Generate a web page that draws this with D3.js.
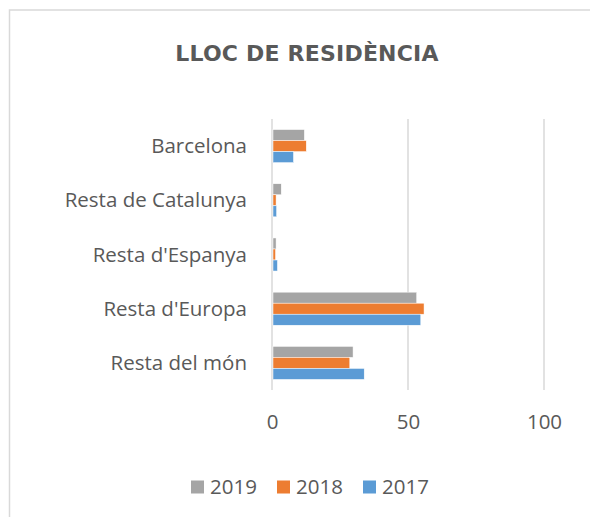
<!DOCTYPE html>
<meta charset="utf-8">
<style>
  html, body {
      margin: 0;
      padding: 0;
      background: #fff;
  }
  text {
      fill: #595959;
  }
  .title {
      font-family: "DejaVu Sans", sans-serif;
      font-weight: bold;
      font-size: 22px;
      letter-spacing: 0.2px;
  }
  .lbl {
      font-family: "Open Sans", sans-serif;
      font-size: 20.5px;
  }
  .grid line {
      stroke: #d9d9d9;
      stroke-width: 1.5px;
  }
</style>
<body>
</body>
<script src="https://cdn.jsdelivr.net/npm/d3@7"></script>
<script>

  var width = 590;
  var height = 517;

  // data
  var categories = ["Barcelona", "Resta de Catalunya", "Resta d'Espanya", "Resta d'Europa", "Resta del món"];
  var years = ["2019", "2018", "2017"];
  var values2019 = [11.9, 3.4, 1.5, 53.2, 29.8];
  var values2018 = [12.6, 1.5, 1.3, 55.9, 28.6];
  var values2017 = [7.9, 1.7, 2.0, 54.7, 33.9];
  var xTicks = [0, 50, 100];

  var colors = {"2019": "#a5a5a5", "2018": "#ed7d31", "2017": "#5b9bd5"};
  var series = {"2019": values2019, "2018": values2018, "2017": values2017};

  var svg = d3.select("body").append("svg")
      .attr("width", width)
      .attr("height", height);

  /* chart border */
  svg.append("rect")
      .attr("x", 9.5)
      .attr("y", 10)
      .attr("width", 620)
      .attr("height", 560)
      .attr("fill", "none")
      .attr("stroke", "#d9d9d9")
      .attr("stroke-width", 1.5);

  svg.append("text")
      .attr("class", "title")
      .attr("x", 307)
      .attr("y", 53)
      .attr("dy", ".35em")
      .attr("text-anchor", "middle")
      .text("LLOC DE RESIDÈNCIA");

  var x = d3.scaleLinear()
      .domain([0, 100])
      .range([272, 544]);

  var y = d3.scaleBand()
      .domain(categories)
      .range([119, 390])
      .paddingInner(0.39)
      .paddingOuter(0.195);

  var y1 = d3.scaleBand()
      .domain(years)
      .range([0, y.bandwidth()]);

  /* gridlines */
  svg.append("g")
      .attr("class", "grid")
      .selectAll("line")
      .data(xTicks)
      .enter().append("line")
      .attr("x1", d => x(d))
      .attr("x2", d => x(d))
      .attr("y1", 119)
      .attr("y2", 390);

  /* bars */
  var groups = svg.selectAll(".cat")
      .data(categories)
      .enter().append("g")
      .attr("class", "cat")
      .attr("transform", d => "translate(0," + y(d) + ")");

  groups.selectAll("rect")
      .data((d, i) => years.map(yr => ({year: yr, value: series[yr][i]})))
      .enter().append("rect")
      .attr("x", x(0) + 1)
      .attr("y", d => y1(d.year))
      .attr("width", d => x(d.value) - x(0) - 1)
      .attr("height", y1.bandwidth())
      .attr("fill", d => colors[d.year])
      .attr("stroke", "#fff")
      .attr("stroke-width", 0.5);

  /* category labels */
  svg.append("g")
      .selectAll("text")
      .data(categories)
      .enter().append("text")
      .attr("class", "lbl")
      .attr("x", 247)
      .attr("y", d => y(d) + y.bandwidth() / 2)
      .attr("dy", ".35em")
      .attr("text-anchor", "end")
      .text(d => d);

  /* x axis labels */
  var xAxis = d3.axisBottom(x)
      .tickValues(xTicks)
      .tickSize(0)
      .tickPadding(0);

  var ax = svg.append("g")
      .attr("transform", "translate(0,415)")
      .call(xAxis);
  ax.select(".domain").remove();
  ax.selectAll("text")
      .attr("class", "lbl")
      .attr("dy", ".35em")
      .attr("y", 7)
      .attr("fill", null);
  ax.attr("font-family", null).attr("font-size", null);

  /* legend */
  var legendX = {"2019": 191, "2018": 277, "2017": 363};
  var legend = svg.append("g")
      .selectAll("g")
      .data(years)
      .enter().append("g")
      .attr("transform", d => "translate(" + legendX[d] + ",487)");
  legend.append("rect")
      .attr("x", 0)
      .attr("y", -6.5)
      .attr("width", 13)
      .attr("height", 13)
      .attr("fill", d => colors[d]);
  legend.append("text")
      .attr("class", "lbl")
      .attr("x", 19)
      .attr("dy", ".35em")
      .text(d => d);

</script>
